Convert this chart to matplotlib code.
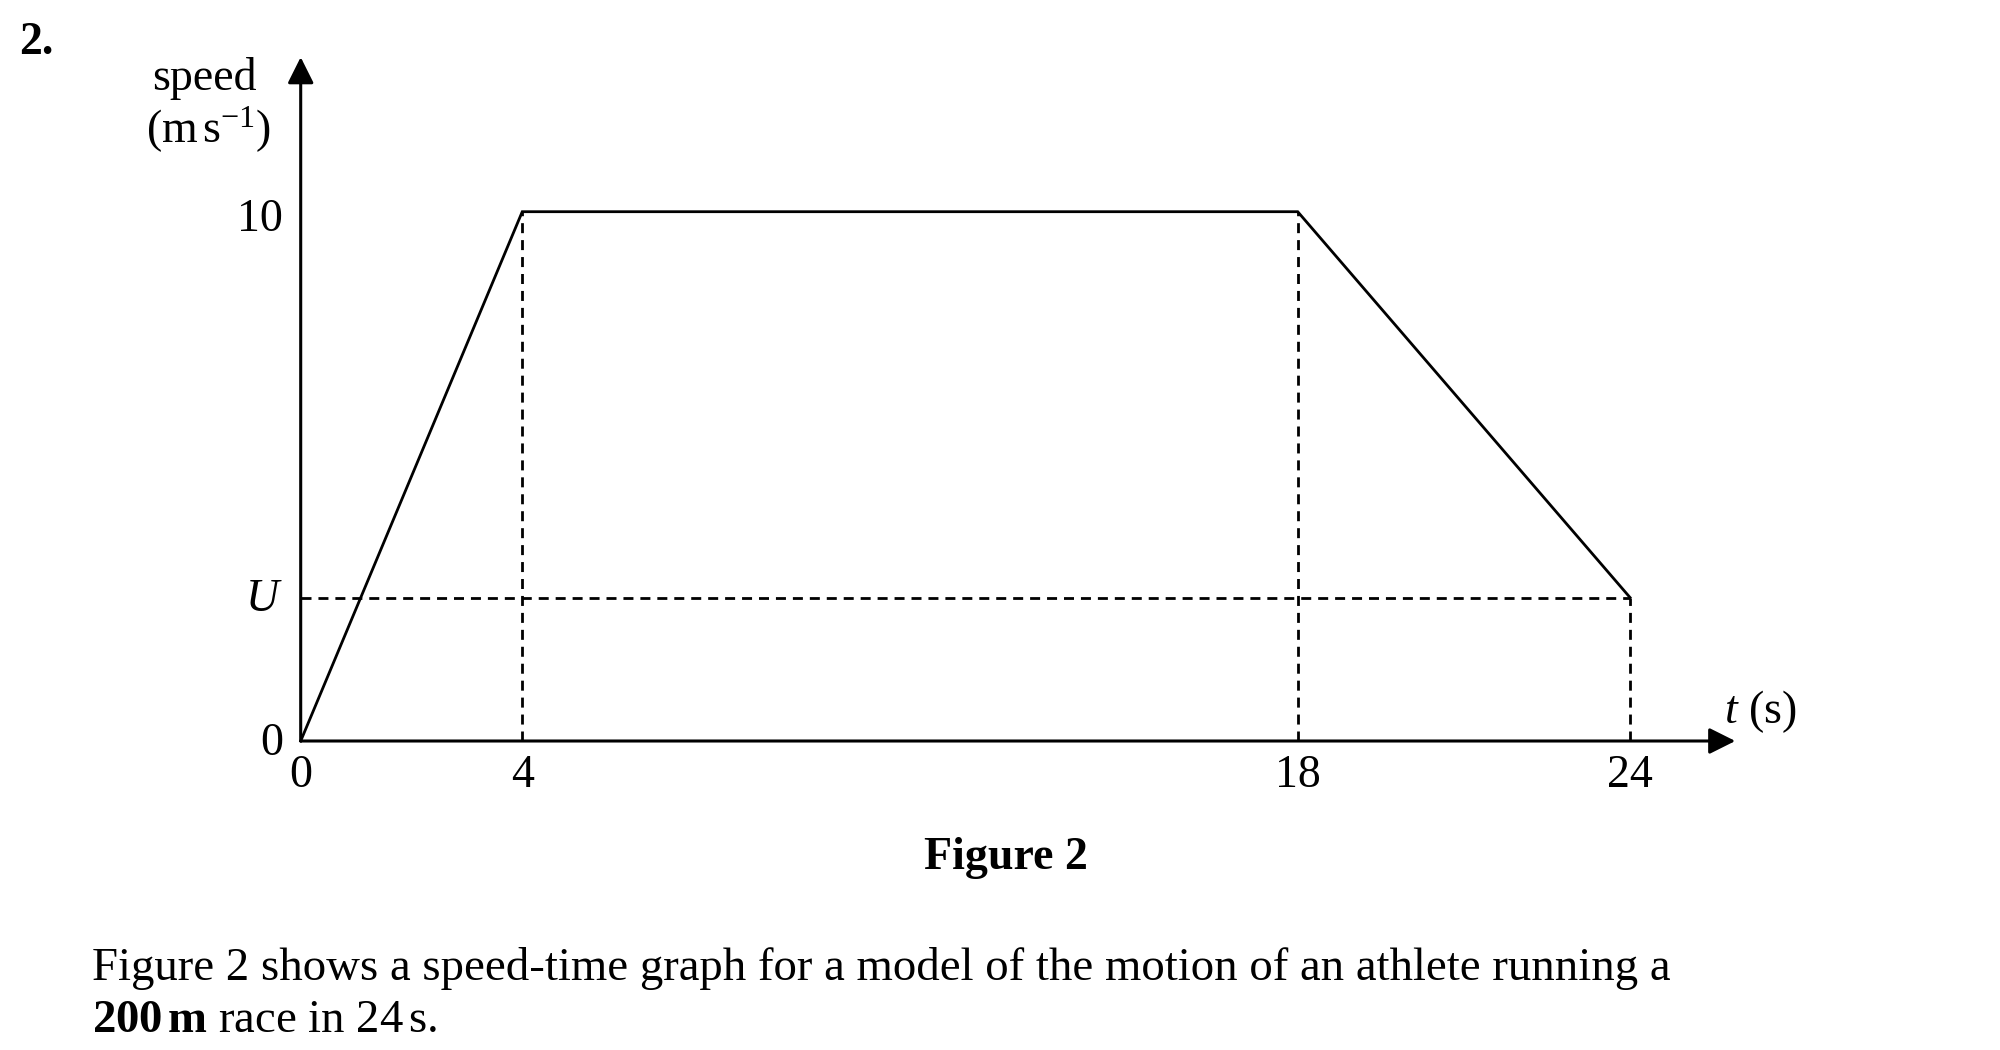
import matplotlib
matplotlib.use("Agg")
import matplotlib.pyplot as plt

plt.rcParams['font.family'] = ['Liberation Serif', 'DejaVu Serif']
plt.rcParams['mathtext.fontset'] = 'custom'
plt.rcParams['mathtext.rm'] = 'Liberation Serif'
plt.rcParams['mathtext.it'] = 'Liberation Serif:italic'
plt.rcParams['mathtext.bf'] = 'Liberation Serif:bold'

# data
t_points = [0, 4, 18, 24]
speed_points = [0, 10, 10, 2.71]
U = 2.71
x_ticks = [0, 4, 18, 24]
x_tick_labels = ["0", "4", "18", "24"]
y_ticks = [0, 2.71, 10]
y_tick_labels = ["0", "$U$", "10"]

FS = 33
CAP_FS = 33.7
W, H = 2000, 1050
fig = plt.figure(figsize=(20, 10.5), dpi=100)
ax_left = 300.7 / W
ax_bottom = (H - 741) / H
xmax, ymax = 26.5, 13.0
ax = fig.add_axes([ax_left, ax_bottom, xmax * 55.39 / W, ymax * 52.93 / H])
ax.set_xlim(0, xmax)
ax.set_ylim(0, ymax)
ax.axis('off')

# axes with arrows
arrow = dict(arrowstyle='-|>,head_length=0.8,head_width=0.4', mutation_scale=20,
             lw=2.2, color='black', shrinkA=0, shrinkB=0)
ax.annotate('', xy=(25.9, 0), xytext=(0, 0), arrowprops=arrow, annotation_clip=False)
ax.annotate('', xy=(0, 12.92), xytext=(0, 0), arrowprops=arrow, annotation_clip=False)

# graph
ax.plot(t_points, speed_points, color='black', lw=2.0, solid_joinstyle='miter', clip_on=False)

# dashed guides
dash = dict(color='black', lw=2.0, dashes=(3.6, 2.5))
ax.plot([0, t_points[3]], [U, U], **dash)
ax.plot([t_points[1], t_points[1]], [0, speed_points[1]], **dash)
ax.plot([t_points[2], t_points[2]], [0, speed_points[2]], **dash)
ax.plot([t_points[3], t_points[3]], [0, speed_points[3]], **dash)

# tick labels
for x, lab in zip(x_ticks, x_tick_labels):
    ax.text(x, -0.25, lab, ha='center', va='top', fontsize=FS)
for y, lab in zip(y_ticks, y_tick_labels):
    if y == 0:
        yy = y - 0.05
    elif y == 10:
        yy = y - 0.15
    else:
        yy = y - 0.04
    ax.text(-0.32, yy, lab, ha='right', va='center', fontsize=FS)

ax.text(25.7, 0.55, '$t$ (s)', ha='left', va='center', fontsize=FS)

# y axis label
fig.text(204 / W, 1 - 78 / H, 'speed', ha='center', va='center', fontsize=FS)
fig.text(209 / W, 1 - 130 / H, r'(m$\,$s$^{-1}$)', ha='center', va='center', fontsize=FS)

fig.text(19 / W, 1 - 22 / H, '2.', ha='left', va='top', fontsize=FS, fontweight='bold')

fig.text(1006 / W, 1 - 858 / H, 'Figure 2', ha='center', va='center', fontsize=FS, fontweight='bold')
fig.text(92 / W, 1 - 968 / H,
         'Figure 2 shows a speed-time graph for a model of the motion of an athlete running a',
         ha='left', va='center', fontsize=CAP_FS)
fig.text(92 / W, 1 - 1021 / H, r'$\mathbf{200\,m}$ race in 24$\,$s.',
         ha='left', va='center', fontsize=CAP_FS)

fig.savefig('out.png', dpi=100, facecolor='white')
